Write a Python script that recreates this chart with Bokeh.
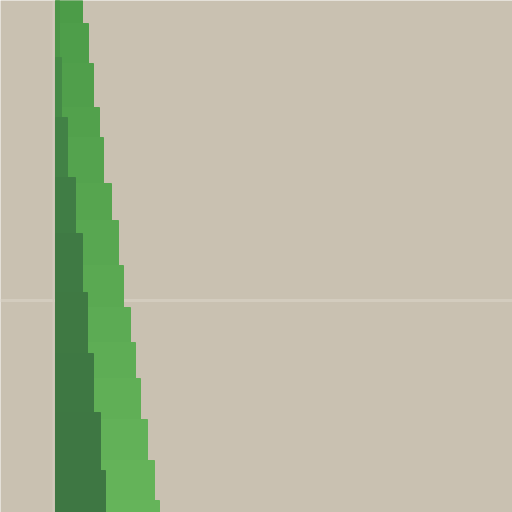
from bokeh.embed import file_html
from bokeh.models import Range1d
from bokeh.plotting import figure
from bokeh.resources import INLINE

# outer (light) series: row edges and bar ends
outer_edges = [0, 23, 63, 107, 137, 183, 220, 265, 307, 342, 378, 419, 460, 500, 520]
outer_values = [82, 88, 93, 99, 103, 111, 118, 123, 130, 135, 140, 147, 154, 159]
outer_colors = ["#4c9c48", "#4e9e4a", "#509f4b", "#52a14c", "#54a34e", "#56a54f", "#58a751",
                "#5aa952", "#5cab54", "#5ead55", "#60af56", "#62b158", "#64b359", "#65b45a"]

# inner (dark) series
inner_edges = [0, 57, 117, 177, 233, 292, 353, 412, 470, 520]
inner_values = [59, 61, 67, 75, 82, 87, 93, 100, 105]
inner_colors = ["#4a9548", "#458a47", "#428246", "#407d45", "#3f7a44", "#3f7943",
                "#3e7843", "#3e7743", "#3e7743"]

base = 55
grid_y = [300]
grid_x = [53]

p = figure(width=512, height=512, output_backend="svg", toolbar_location=None,
           x_range=Range1d(0, 512), y_range=Range1d(512, 0), min_border=0)
p.axis.visible = False
p.grid.visible = False
p.outline_line_color = None
p.background_fill_color = "#c9c1b1"
p.border_fill_color = "#c9c1b1"

p.segment(x0=0, x1=512, y0=grid_y, y1=grid_y, line_color="#d3ccbe", line_width=3)
p.segment(x0=grid_x, x1=grid_x, y0=0, y1=512, line_color="#d0c9bb", line_width=2)

p.quad(left=base, right=outer_values, top=outer_edges[:-1], bottom=outer_edges[1:],
       fill_color=outer_colors, line_color=outer_colors, line_width=1)
p.quad(left=base, right=inner_values, top=inner_edges[:-1], bottom=inner_edges[1:],
       fill_color=inner_colors, line_color=inner_colors, line_width=1)

open("out.html", "w").write(file_html(p, INLINE))
